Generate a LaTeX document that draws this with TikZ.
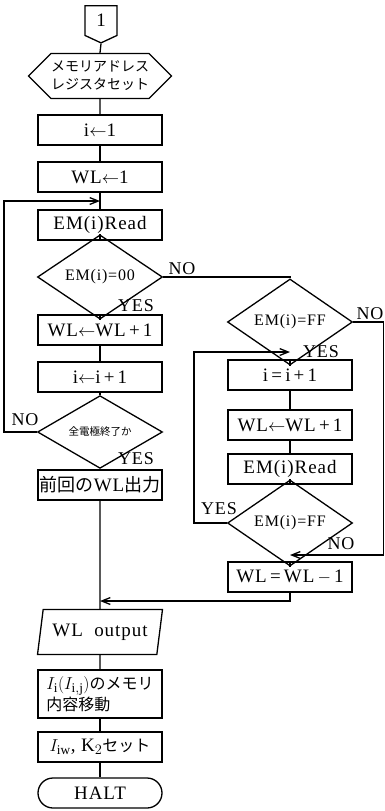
\documentclass[tikz,border=0pt]{standalone}
\usepackage{fontspec}
\setmainfont{Liberation Serif}[LetterSpace=5]
\newfontfamily\cjk{Noto Sans CJK JP}
\usetikzlibrary{shapes.geometric,shapes.symbols,arrows.meta}
\begin{document}
\begin{tikzpicture}[x=1pt,y=-1pt,
  flow/.style={line width=1.3pt},
  feed/.style={flow,-{Straight Barb[length=3mm,width=2.4mm]}},
  box/.style={draw,flow,minimum width=124pt,minimum height=30pt,inner sep=1pt,align=center,font=\fontsize{19}{21}\selectfont},
  test/.style={draw,flow,diamond,minimum width=125pt,minimum height=44pt,inner sep=0pt,font=\fontsize{16}{18}\selectfont},
  lbl/.style={inner sep=0pt,font=\fontsize{18}{18}\selectfont}
]
\useasboundingbox (0,0) rectangle (384,811);
% main column
\node[draw,flow,signal,signal to=south,signal pointer angle=130,minimum width=32pt,minimum height=32pt,inner sep=0pt,anchor=north,font=\fontsize{19}{21}\selectfont] (start) at (101,5) {1};
\node[draw,flow,signal,signal to=west and east,minimum width=125pt,minimum height=45pt,inner sep=0pt,align=center,font=\cjk\fontsize{14}{18}\selectfont] (mar) at (100,76) {メモリアドレス\\レジスタセット};
\node[box] (ione) at (100,130) {i$\leftarrow$1};
\node[box] (wlone) at (100,177) {WL$\leftarrow$1};
\node[box] (readA) at (100,225) {EM(i)Read};
\node[test] (testA) at (100,277) {EM(i)=00};
\node[box] (wlinc) at (100,330) {WL$\leftarrow$WL\,+\,1};
\node[box] (iinc) at (100,377) {i$\leftarrow$i\,+\,1};
\node[test,font=\cjk\fontsize{10.5}{12}\selectfont] (testEnd) at (100,432) {全電極終了か};
\node[box] (prevout) at (100,485) {{\cjk\fontsize{18}{20}\selectfont 前回の}WL{\cjk\fontsize{18}{20}\selectfont 出力}};
\node[draw,flow,trapezium,trapezium left angle=74,trapezium right angle=106,trapezium stretches=true,minimum width=125pt,minimum height=45pt,inner sep=0pt,font=\fontsize{19}{21}\selectfont] (wlout) at (100,632) {WL\ \ output};
\node[box,minimum height=48pt,align=left] (move) at (100,694) {$I_{\mathrm{i}}(I_{\mathrm{i,j}})${\cjk\fontsize{16}{18}\selectfont のメモリ}\\{\cjk\fontsize{16}{18}\selectfont 内容移動}};
\node[box] (setk) at (100,747) {$I_{\mathrm{iw}}$, K$_2${\cjk\fontsize{16}{18}\selectfont セット}};
\node[draw,flow,rounded corners=15pt,minimum width=124pt,minimum height=30pt,font=\fontsize{19}{21}\selectfont] (halt) at (100,793) {HALT};
% right column
\node[test] (testB) at (290,322) {EM(i)=FF};
\node[box] (iinc2) at (290,375) {i\,=\,i\,+\,1};
\node[box] (wlinc2) at (290,425) {WL$\leftarrow$WL\,+\,1};
\node[box] (readB) at (290,469) {EM(i)Read};
\node[test,minimum height=46pt] (testC) at (290,523) {EM(i)=FF};
\node[box] (wldec) at (290,577) {WL\,=\,WL\,$-$\,1};
% junctions
\coordinate (loopA) at (100,201);
\coordinate (loopB) at (290,352);
\coordinate (noB) at (290,555);
\coordinate (merge) at (100,601);
% connectors
\draw[flow] (start.south) -- (mar.north);
\draw[flow] (mar) -- (ione);
\draw[flow] (ione) -- (wlone);
\draw[flow] (wlone) -- (readA);
\draw[flow] (readA) -- (testA);
\draw[flow] (testA) -- (wlinc);
\draw[flow] (wlinc) -- (iinc);
\draw[flow] (iinc) -- (testEnd);
\draw[flow] (testEnd) -- (prevout);
\draw[flow] (prevout.south) -- (wlout.north);
\draw[flow] (wlout) -- (move);
\draw[flow] (move) -- (setk);
\draw[flow] (setk) -- (halt);
\draw[flow] (testA.east) -| (testB.north);
\draw[feed] (testEnd.west) -- ++(-33,0) |- (loopA);
\draw[flow] (testB) -- (iinc2);
\draw[flow] (iinc2) -- (wlinc2);
\draw[flow] (wlinc2) -- (readB);
\draw[flow] (readB) -- (testC);
\draw[flow] (testC) -- (wldec);
\draw[feed] (testC.west) -- ++(-33,0) |- (loopB);
\draw[feed] (testB.east) -- ++(30,0) |- (noB);
\draw[feed] (wldec.south) |- (merge);
% labels
\node[lbl] (noA) at (182,269) {NO};
\node[lbl] (yesA) at (136,306) {YES};
\node[lbl] (noBl) at (370,314) {NO};
\node[lbl] (yesB) at (321,352) {YES};
\node[lbl] (noEnd) at (25,420) {NO};
\node[lbl] (yesEnd) at (136,459) {YES};
\node[lbl] (yesC) at (219,509) {YES};
\node[lbl] (noC) at (341,544) {NO};
\end{tikzpicture}
\end{document}
